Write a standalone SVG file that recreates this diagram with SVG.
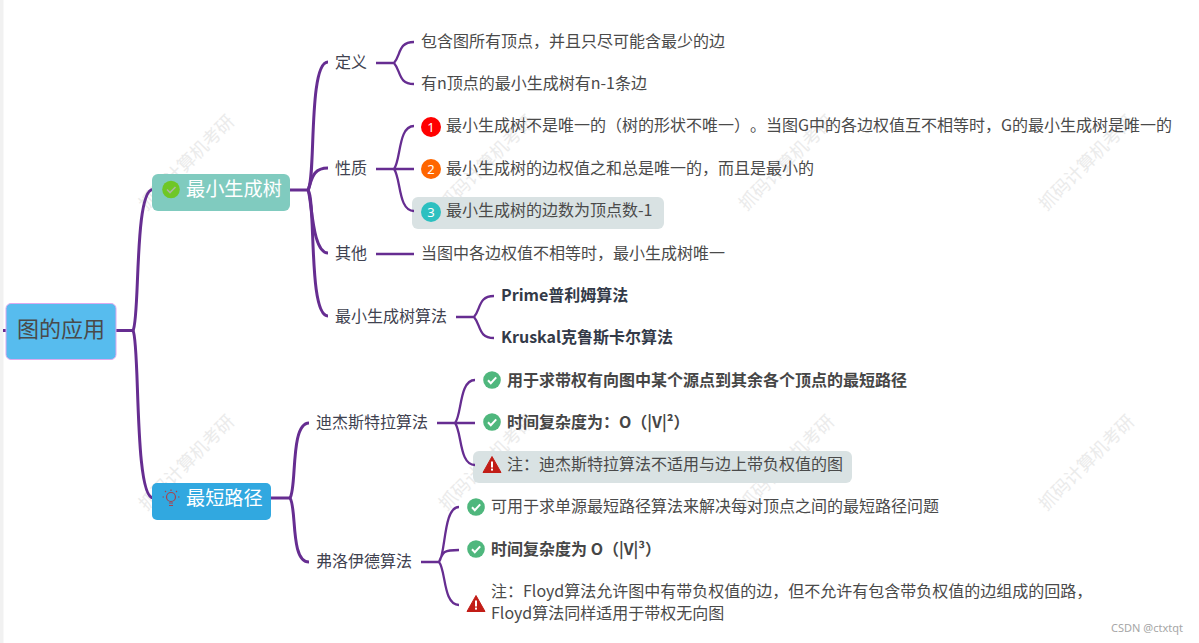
<svg xmlns="http://www.w3.org/2000/svg" width="1199" height="643" viewBox="0 0 1199 643">
<defs>
<style>
text{font-family:"Noto Sans CJK SC","Noto Sans",sans-serif;fill:#4a4a4a;font-size:16px;text-spacing-trim:space-all}
.lbl{fill:#3f4250}
.b{font-weight:700;fill:#333a48}
.bb{font-weight:700;fill:#464646}
.wm{fill:#ebebeb;font-size:18px;text-anchor:middle}
.num{fill:#fff;font-size:13px;text-anchor:middle;font-family:"Noto Sans",sans-serif}
.c{fill:none;stroke:#662d91;stroke-width:3;stroke-linecap:butt}
.c2{fill:none;stroke:#662d91;stroke-width:2.300}
.hl{fill:#d9e2e3}
</style>
<g id="ok"><circle r="8.800" fill="#4fb77d"/><path d="M-4 0.300L-1.200 3.200L4.200-2.600" fill="none" stroke="#fff" stroke-width="2"/></g>
<g id="warn"><path d="M0-8.500L9 7.500H-9Z" fill="#c21d17" stroke="#c21d17" stroke-width="1" stroke-linejoin="round"/><rect x="-1" y="-3.500" width="2" height="6" fill="#fff"/><rect x="-1" y="3.600" width="2" height="2" fill="#fff"/></g>
</defs>
<rect width="1199" height="643" fill="#fff"/>
<rect x="0" y="0" width="3.500" height="643" fill="#f1f1f1"/>
<g id="watermarks">
<text class="wm" transform="translate(191 167) rotate(-45)">抓码计算机考研</text>
<text class="wm" transform="translate(491 167) rotate(-45)">抓码计算机考研</text>
<text class="wm" transform="translate(791 167) rotate(-45)">抓码计算机考研</text>
<text class="wm" transform="translate(1091 167) rotate(-45)">抓码计算机考研</text>
<text class="wm" transform="translate(191 467) rotate(-45)">抓码计算机考研</text>
<text class="wm" transform="translate(491 467) rotate(-45)">抓码计算机考研</text>
<text class="wm" transform="translate(791 467) rotate(-45)">抓码计算机考研</text>
<text class="wm" transform="translate(1091 467) rotate(-45)">抓码计算机考研</text>
</g>
<g id="highlights">
<rect class="hl" x="412" y="197" width="252" height="32" rx="6"/>
<rect class="hl" x="473" y="451" width="379" height="32" rx="6"/>
</g>
<g id="connectors">
<path class="c" d="M3 330.500H6M115 330.500H133"/>
<path class="c" d="M133 330.500C140 320 134 189 153 189.500"/>
<path class="c" d="M133 330.500C140 342 134 497 153 498"/>
<path class="c" d="M289 190H308"/>
<path class="c" d="M308 190C316 180 308 62 328 62"/>
<path class="c" d="M308 190C312 180 312 168 328 168"/>
<path class="c" d="M308 190C312 200 312 253 328 253"/>
<path class="c" d="M308 190C316 200 308 316 328 316"/>
<path class="c" d="M271 498H290"/>
<path class="c" d="M290 498C297 488 290 423 309 423"/>
<path class="c" d="M290 498C297 508 290 562 309 562"/>
<path class="c2" d="M376 63H394M394 63C401 55 398 42 414 42M394 63C401 71 398 84 414 84"/>
<path class="c2" d="M376 169H394M394 169C401 160 398 126 414 126M394 169H414M394 169C401 178 398 211 414 211"/>
<path class="c2" d="M376 254H414"/>
<path class="c2" d="M456 317H474M474 317C481 309 478 296 494 296M474 317C481 325 478 338 494 338"/>
<path class="c2" d="M437 423H455M455 423C462 415 459 380 475 380M455 423H475M455 423C462 432 459 465 475 465"/>
<path class="c2" d="M421 562H439M439 562C446 554 443 507 459 507M439 562C443 552 443 550 459 550M439 562C446 570 443 605 459 605"/>
</g>
<g id="root">
<rect x="6" y="303.500" width="110" height="56" rx="5" fill="#57bcee" stroke="#dca9ee" stroke-width="1"/>
<text x="17" y="337" style="font-size:22px">图的应用</text>
</g>
<g id="mst">
<rect x="152" y="174" width="138" height="37" rx="6" fill="#80cbbf"/>
<circle cx="171" cy="189.500" r="8.800" fill="#6fc726"/>
<path d="M167 189.500L170 192.500L175.500 187" fill="none" stroke="#a9b8a0" stroke-width="1.600"/>
<text x="186" y="196" style="font-size:19.200px;fill:#fff">最小生成树</text>
</g>
<g id="sp">
<rect x="152" y="483" width="119" height="37" rx="5" fill="#31a8e0"/>
<g fill="none" stroke="#a8434d" stroke-width="1.200"><circle cx="171" cy="497" r="4.500"/><path d="M169 503H173M169 505.500H173M171 489.500V491M164 497H162.500M178 497H179.500M166 492L165 491M176 492L177 491"/></g>
<text x="186" y="505" style="font-size:19.200px;fill:#fff">最短路径</text>
</g>
<g id="def"><text class="lbl" x="335" y="68">定义</text></g>
<g id="def1"><text x="421" y="47">包含图所有顶点，并且只尽可能含最少的边</text></g>
<g id="def2"><text x="421" y="89">有n顶点的最小生成树有n-1条边</text></g>
<g id="prop"><text class="lbl" x="335" y="174">性质</text></g>
<g id="p1"><circle cx="431" cy="127" r="10" fill="#f00"/><text class="num" x="431" y="132">1</text><text x="446" y="131">最小生成树不是唯一的（树的形状不唯一）。当图G中的各边权值互不相等时，G的最小生成树是唯一的</text></g>
<g id="p2"><circle cx="431" cy="169" r="10" fill="#f60"/><text class="num" x="431" y="174">2</text><text x="446" y="174">最小生成树的边权值之和总是唯一的，而且是最小的</text></g>
<g id="p3"><circle cx="431" cy="212" r="10" fill="#2cc0c0"/><text class="num" x="431" y="217">3</text><text x="446" y="216">最小生成树的边数为顶点数-1</text></g>
<g id="other"><text class="lbl" x="335" y="259">其他</text></g>
<g id="other1"><text x="421" y="259">当图中各边权值不相等时，最小生成树唯一</text></g>
<g id="alg"><text class="lbl" x="335" y="322">最小生成树算法</text></g>
<g id="prim"><text class="b" x="501" y="301">Prime普利姆算法</text></g>
<g id="kruskal"><text class="b" x="501" y="343">Kruskal克鲁斯卡尔算法</text></g>
<g id="dijkstra"><text class="lbl" x="316" y="428">迪杰斯特拉算法</text></g>
<g id="d1"><use href="#ok" x="492" y="380"/><text class="bb" x="507" y="386">用于求带权有向图中某个源点到其余各个顶点的最短路径</text></g>
<g id="d2"><use href="#ok" x="492" y="422"/><text class="bb" x="507" y="428">时间复杂度为：O（|V|²）</text></g>
<g id="d3"><use href="#warn" x="492" y="465"/><text x="507" y="470">注：迪杰斯特拉算法不适用与边上带负权值的图</text></g>
<g id="floyd"><text class="lbl" x="316" y="567">弗洛伊德算法</text></g>
<g id="f1"><use href="#ok" x="476" y="507"/><text x="491" y="512">可用于求单源最短路径算法来解决每对顶点之间的最短路径问题</text></g>
<g id="f2"><use href="#ok" x="476" y="549"/><text class="bb" x="491" y="555">时间复杂度为 O（|V|³）</text></g>
<g id="f3"><use href="#warn" x="476" y="604"/><text x="491" y="597">注：Floyd算法允许图中有带负权值的边，但不允许有包含带负权值的边组成的回路，</text><text x="491" y="619">Floyd算法同样适用于带权无向图</text></g>
<text x="1111" y="632" style="font-size:11px;fill:#a6a6a6;font-family:'Noto Sans',sans-serif">CSDN @ctxtqt</text>
</svg>
